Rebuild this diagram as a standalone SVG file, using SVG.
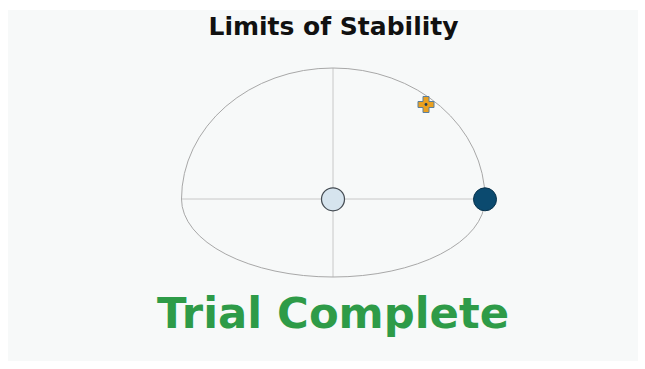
<svg xmlns="http://www.w3.org/2000/svg" width="645" height="369" viewBox="0 0 645 369">
<style>
.title{font-family:"DejaVu Sans","Verdana",sans-serif;font-weight:bold;font-size:25px;fill:#111;text-anchor:middle}
.status{font-family:"DejaVu Sans","Verdana",sans-serif;font-weight:bold;font-size:43.3px;fill:#2e9b48;text-anchor:middle}
.axis{stroke:#c8c8c8;stroke-width:1;fill:none}
.limit{stroke:#a8a8a8;stroke-width:1;fill:none}
</style>
<rect x="0" y="0" width="645" height="369" fill="#ffffff"/>
<rect x="8" y="10" width="630" height="351" fill="#f7f9f9"/>
<text class="title" x="333.5" y="34.7">Limits of Stability</text>
<g id="connectors">
<line class="axis" x1="181.5" y1="199" x2="485" y2="199"/>
<line class="axis" x1="333" y1="68" x2="333" y2="277"/>
</g>
<g id="limit-boundary">
<path class="limit" d="M181.5 199 A151.5 131 0 0 1 333 68 A152 131 0 0 1 485 199 A152 78 0 0 1 333 277 A151.5 78 0 0 1 181.5 199 Z"/>
</g>
<g id="center">
<circle cx="333" cy="199.3" r="11.5" fill="#d6e4ee" stroke="#444b52" stroke-width="1.2"/>
</g>
<g id="target">
<circle cx="485" cy="199.3" r="11.5" fill="#0b4a6f" stroke="#08324c" stroke-width="1"/>
</g>
<g id="cursor">
<path d="M423 96.5 h6 v5 h5 v6 h-5 v5 h-6 v-5 h-5 v-6 h5 Z" fill="#e9a021" stroke="#5b7f9c" stroke-width="1"/>
<circle cx="426" cy="104.5" r="1.4" fill="#1d3d5a"/>
</g>
<text class="status" x="333" y="328.3">Trial Complete</text>
</svg>
